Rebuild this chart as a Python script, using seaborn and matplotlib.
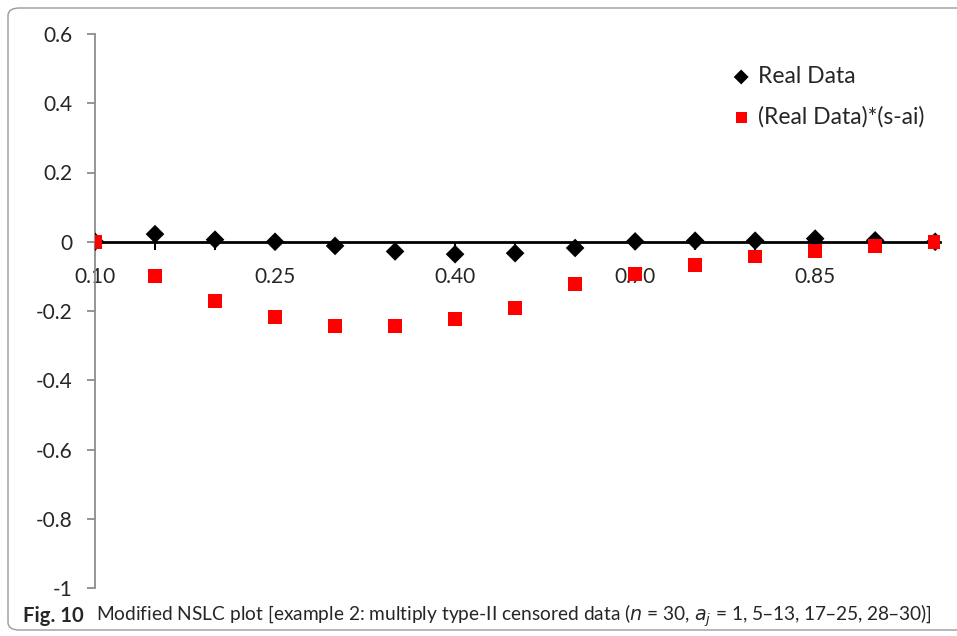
import matplotlib
matplotlib.use("Agg")
import matplotlib.pyplot as plt
import seaborn as sns
import pandas as pd
from matplotlib.patches import FancyBboxPatch

categories = ["0.10", "0.15", "0.20", "0.25", "0.30", "0.35", "0.40", "0.50",
              "0.60", "0.70", "0.75", "0.80", "0.85", "0.90", "0.95"]
real_data = [0.0, 0.022, 0.006, 0.0, -0.012, -0.028, -0.036, -0.033, -0.018,
             0.001, 0.003, 0.003, 0.009, 0.004, 0.0]
weighted = [0.0, -0.099, -0.171, -0.217, -0.243, -0.243, -0.223, -0.191, -0.122,
            -0.093, -0.067, -0.043, -0.026, -0.012, 0.0]
shown_labels = ["0.10", "0.25", "0.40", "0.70", "0.85"]
y_ticks = [0.6, 0.4, 0.2, 0, -0.2, -0.4, -0.6, -0.8, -1]
y_tick_labels = ["0.6", "0.4", "0.2", "0", "-0.2", "-0.4", "-0.6", "-0.8", "-1"]

sns.set_style("white")
plt.rcParams["font.family"] = ["Lato", "DejaVu Sans"]
plt.rcParams["axes.unicode_minus"] = False

W, H = 957, 636
fig = plt.figure(figsize=(W / 100, H / 100), dpi=100)
ax = fig.add_axes([95 / W, 1 - 588 / H, (940 - 95) / W, (588 - 34) / H])

df1 = pd.DataFrame({"x": categories, "y": real_data})
df2 = pd.DataFrame({"x": categories, "y": weighted})

sns.scatterplot(data=df1, x="x", y="y", ax=ax, marker="D", s=90, color="black",
                edgecolor="none", linewidth=0, label="Real Data", zorder=4)
sns.scatterplot(data=df2, x="x", y="y", ax=ax, marker="s", s=95, color="#ff0000",
                edgecolor="none", linewidth=0, label="(Real Data)*(s-ai)", zorder=5)

ax.set_xlim(0, 14.08)
ax.set_ylim(-1, 0.6)
ax.set_xlabel("")
ax.set_ylabel("")

ax.set_yticks(y_ticks)
ax.set_yticklabels(y_tick_labels)

ax.set_xticks(range(len(categories)))
ax.set_xticklabels([c if c in shown_labels else "" for c in categories])

for side in ["top", "right"]:
    ax.spines[side].set_visible(False)
ax.spines["left"].set_color("#8c8c8c")
ax.spines["left"].set_linewidth(1.3)
ax.spines["bottom"].set_position(("data", 0))
ax.spines["bottom"].set_color("black")
ax.spines["bottom"].set_linewidth(2)
ax.spines["bottom"].set_zorder(2)

ax.tick_params(axis="y", direction="out", length=6, width=1.3, color="#8c8c8c",
               labelsize=15, pad=10, left=True)
ax.tick_params(axis="x", direction="out", length=6, width=1.5, color="black",
               labelsize=15, pad=12, bottom=True)

handles, labels = ax.get_legend_handles_labels()
leg = ax.legend(handles, labels,
                loc="upper left", bbox_to_anchor=(732 / W, 1 - 66 / H),
                bbox_transform=fig.transFigure, frameon=False, fontsize=16.5,
                handlelength=0.8, handletextpad=0.35, labelspacing=0.82,
                markerscale=0.8, borderaxespad=0, borderpad=0)

# caption
fig.text(23 / W, 1 - 616 / H, "Fig. 10", fontsize=14.6, fontweight="bold",
         va="center", ha="left", family="Lato")
fig.text(96 / W, 1 - 616 / H,
         "Modified NSLC plot [example 2: multiply type-II censored data ($n$ = 30, $a_j$ = 1, 5–13, 17–25, 28–30)]",
         fontsize=13.75, va="center", ha="left", family="Lato")

# rounded border
box = FancyBboxPatch((8 / W, 6 / H), (W + 20) / W, (H - 14) / H,
                     boxstyle="round,pad=0,rounding_size=0.012",
                     transform=fig.transFigure, fill=False,
                     edgecolor="#9a9a9a", linewidth=1.0)
fig.patches.append(box)

fig.savefig("out.png", dpi=100)
